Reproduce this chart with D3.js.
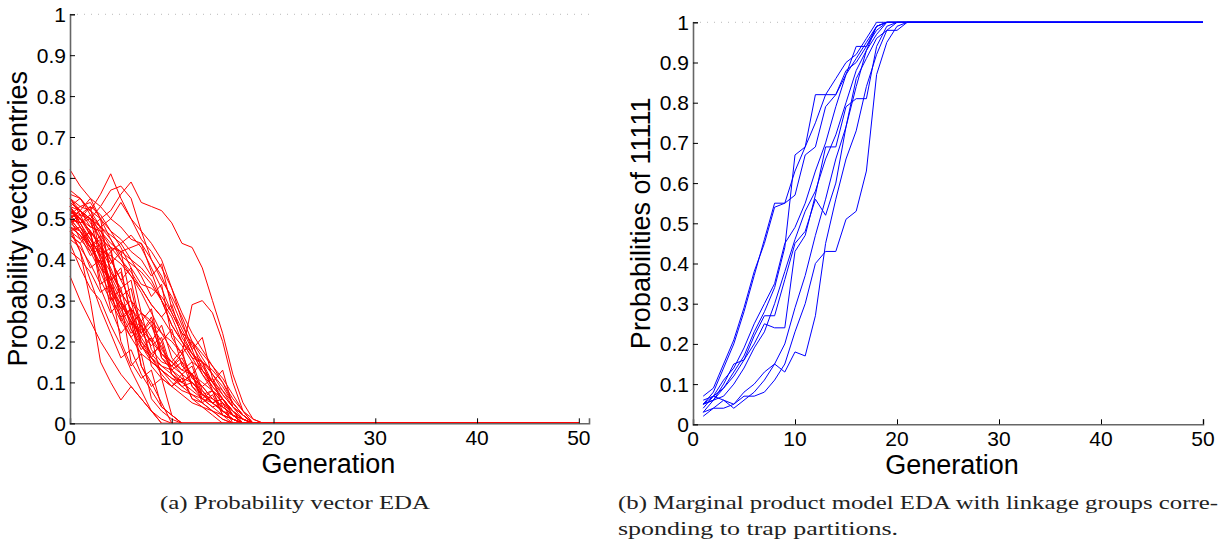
<!DOCTYPE html>
<html><head><meta charset="utf-8">
<script src="https://cdn.jsdelivr.net/npm/d3@7"></script>
<style>body{margin:0;background:#fff}svg{display:block}</style>
</head><body>
<svg id="c" width="1226" height="544"></svg>
<script>
// ---------- DATA ----------
const xTicks = [0,10,20,30,40,50];
const yTicks = [0,0.1,0.2,0.3,0.4,0.5,0.6,0.7,0.8,0.9,1];
const yTickLabels = ["0","0.1","0.2","0.3","0.4","0.5","0.6","0.7","0.8","0.9","1"];
const generationsLeft = d3.range(0,51);   // generations 0..50
const generationsRight = d3.range(1,51);  // generations 1..50
// Left: probability vector entries (values read until each line reaches 0; stays 0 afterwards)
const redSeries = [
[0.47,0.42,0.3,0.15,0.1,0.057,0.09,0.06,0.03,0.01,0],
[0.36,0.3,0.25,0.2,0.16,0.12,0.09,0.06,0.03,0],
[0.46,0.44,0.38,0.4,0.28,0.22,0.25,0.14,0.1,0.05,0],
[0.42,0.4,0.37,0.32,0.34,0.2,0.14,0.17,0.06,0.03,0.01,0],
[0.5,0.45,0.47,0.33,0.27,0.3,0.15,0.11,0.13,0.04,0.02,0],
[0.53,0.48,0.43,0.46,0.3,0.25,0.28,0.14,0.09,0.11,0.02,0],
[0.48,0.42,0.35,0.28,0.22,0.16,0.18,0.12,0.08,0.04,0.02,0],
[0.44,0.38,0.33,0.3,0.24,0.19,0.13,0.08,0.03,0],
[0.5,0.47,0.42,0.44,0.32,0.28,0.3,0.2,0.17,0.19,0.12,0.1,0.12,0.05,0.03,0.01,0],
[0.52,0.49,0.5,0.4,0.35,0.37,0.27,0.22,0.25,0.16,0.13,0.15,0.09,0.07,0.08,0.02,0.01,0],
[0.48,0.46,0.41,0.43,0.31,0.26,0.28,0.19,0.16,0.2,0.12,0.1,0.12,0.06,0.04,0.05,0],
[0.55,0.51,0.53,0.41,0.35,0.38,0.26,0.21,0.24,0.17,0.15,0.18,0.09,0.06,0.08,0.03,0.01,0],
[0.49,0.5,0.46,0.48,0.37,0.33,0.35,0.23,0.2,0.24,0.16,0.13,0.15,0.08,0.05,0.06,0.02,0],
[0.51,0.48,0.44,0.38,0.33,0.29,0.25,0.19,0.15,0.13,0.11,0.09,0.1,0.08,0.05,0.03,0.01,0],
[0.46,0.44,0.47,0.35,0.3,0.33,0.23,0.18,0.21,0.11,0.09,0.12,0.06,0.05,0.07,0.02,0.01,0],
[0.53,0.5,0.47,0.43,0.38,0.32,0.28,0.25,0.21,0.17,0.14,0.12,0.1,0.07,0.05,0.03,0.02,0.01,0],
[0.5,0.49,0.44,0.39,0.42,0.3,0.24,0.27,0.18,0.15,0.14,0.16,0.11,0.09,0.06,0.04,0.02,0],
[0.47,0.45,0.42,0.37,0.31,0.26,0.21,0.17,0.15,0.13,0.1,0.08,0.07,0.06,0.04,0.02,0],
[0.54,0.52,0.48,0.5,0.36,0.31,0.33,0.22,0.19,0.21,0.13,0.1,0.12,0.07,0.05,0.06,0.02,0.01,0],
[0.49,0.47,0.43,0.39,0.34,0.29,0.25,0.21,0.17,0.14,0.12,0.09,0.07,0.05,0.03,0.01,0],
[0.51,0.5,0.47,0.44,0.39,0.42,0.3,0.25,0.28,0.16,0.14,0.17,0.11,0.09,0.11,0.04,0.02,0],
[0.45,0.43,0.39,0.34,0.36,0.25,0.21,0.24,0.16,0.13,0.11,0.1,0.08,0.06,0.05,0.03,0.01,0],
[0.52,0.51,0.46,0.4,0.34,0.28,0.23,0.19,0.16,0.12,0.09,0.07,0.05,0.04,0.02,0],
[0.5,0.52,0.49,0.45,0.4,0.35,0.38,0.27,0.24,0.2,0.23,0.14,0.12,0.15,0.08,0.05,0.03,0.01,0],
[0.48,0.46,0.43,0.38,0.35,0.3,0.26,0.2,0.16,0.14,0.13,0.11,0.1,0.07,0.05,0.03,0.01,0],
[0.53,0.49,0.45,0.41,0.43,0.3,0.25,0.22,0.26,0.18,0.15,0.12,0.14,0.07,0.06,0.04,0.02,0],
[0.47,0.48,0.45,0.41,0.37,0.32,0.28,0.24,0.2,0.17,0.15,0.13,0.12,0.1,0.08,0.06,0.03,0.01,0],
[0.5,0.47,0.43,0.45,0.33,0.27,0.22,0.25,0.14,0.11,0.09,0.11,0.06,0.04,0.03,0.02,0.01,0],
[0.62,0.58,0.55,0.5,0.45,0.4,0.36,0.32,0.27,0.22,0.18,0.15,0.12,0.09,0.06,0.04,0.02,0],
[0.57,0.55,0.52,0.56,0.61,0.55,0.5,0.47,0.44,0.4,0.33,0.25,0.18,0.12,0.08,0.05,0.02,0],
[0.55,0.53,0.54,0.5,0.52,0.56,0.59,0.54,0.53,0.52,0.49,0.44,0.43,0.38,0.3,0.22,0.12,0.05,0.01,0],
[0.53,0.52,0.5,0.53,0.57,0.58,0.55,0.47,0.4,0.35,0.31,0.26,0.2,0.16,0.12,0.08,0.04,0.01,0],
[0.52,0.5,0.47,0.43,0.4,0.35,0.3,0.27,0.25,0.22,0.2,0.17,0.29,0.3,0.27,0.2,0.1,0.03,0],
[0.5,0.49,0.51,0.46,0.42,0.44,0.46,0.43,0.38,0.33,0.27,0.22,0.17,0.13,0.09,0.06,0.03,0.01,0],
[0.54,0.52,0.55,0.53,0.5,0.48,0.45,0.44,0.4,0.36,0.3,0.24,0.19,0.15,0.1,0.07,0.04,0.02,0],
[0.52,0.5,0.48,0.47,0.43,0.42,0.43,0.44,0.37,0.3,0.24,0.2,0.17,0.15,0.12,0.09,0.05,0.02,0],
[0.56,0.55,0.52,0.48,0.5,0.54,0.5,0.45,0.42,0.38,0.33,0.27,0.22,0.18,0.14,0.1,0.05,0.02,0],
[0.55,0.52,0.5,0.47,0.44,0.42,0.4,0.36,0.31,0.34,0.21,0.17,0.2,0.13,0.1,0.06,0.03,0],
[0.53,0.55,0.51,0.48,0.46,0.44,0.4,0.38,0.35,0.3,0.24,0.2,0.16,0.12,0.09,0.06,0.03,0.01,0],
[0.51,0.53,0.52,0.5,0.47,0.45,0.42,0.4,0.36,0.39,0.28,0.23,0.18,0.21,0.11,0.07,0.04,0.02,0],
[0.49,0.51,0.5,0.48,0.45,0.41,0.39,0.37,0.34,0.3,0.26,0.2,0.16,0.15,0.13,0.1,0.06,0.03,0.01,0],
[0.52,0.5,0.53,0.51,0.47,0.43,0.38,0.34,0.33,0.31,0.27,0.22,0.2,0.17,0.14,0.11,0.07,0.03,0],
[0.5,0.52,0.5,0.45,0.43,0.4,0.37,0.33,0.29,0.26,0.29,0.21,0.17,0.14,0.1,0.13,0.04,0.02,0],
[0.48,0.47,0.44,0.42,0.41,0.39,0.36,0.33,0.29,0.26,0.22,0.19,0.15,0.13,0.1,0.08,0.05,0.02,0]
];
// Right: probabilities of 11111 (from generation 1; values read until each line reaches 1, stays 1 afterwards)
const blueSeries = [
[0.07,0.09,0.15,0.21,0.29,0.38,0.45,0.54,0.55,0.57,0.67,0.69,0.79,0.82,0.88,0.90,0.94,0.99,1],
[0.05,0.08,0.14,0.20,0.28,0.37,0.46,0.55,0.55,0.63,0.69,0.75,0.82,0.82,0.87,0.91,0.95,0.99,1],
[0.05,0.06,0.10,0.15,0.16,0.22,0.27,0.27,0.36,0.45,0.48,0.56,0.52,0.60,0.74,0.84,0.93,0.97,1],
[0.04,0.07,0.09,0.12,0.16,0.20,0.25,0.24,0.24,0.43,0.47,0.57,0.69,0.69,0.79,0.81,0.81,0.94,0.99,1],
[0.03,0.06,0.09,0.13,0.17,0.23,0.28,0.34,0.44,0.67,0.69,0.82,0.82,0.86,0.90,0.92,0.96,1],
[0.05,0.07,0.11,0.14,0.19,0.25,0.30,0.35,0.45,0.49,0.55,0.63,0.70,0.79,0.87,0.94,0.94,0.98,1],
[0.03,0.04,0.04,0.05,0.07,0.07,0.08,0.11,0.15,0.23,0.30,0.40,0.43,0.43,0.51,0.53,0.63,0.87,0.95,0.99,1],
[0.02,0.04,0.06,0.04,0.06,0.08,0.11,0.15,0.13,0.18,0.17,0.27,0.45,0.56,0.66,0.73,0.84,0.92,0.98,1],
[0.06,0.07,0.06,0.05,0.08,0.10,0.13,0.15,0.20,0.29,0.37,0.47,0.56,0.66,0.74,0.86,0.91,0.96,0.98,0.98,1],
[0.05,0.06,0.07,0.10,0.14,0.19,0.23,0.30,0.38,0.46,0.53,0.58,0.66,0.72,0.80,0.88,0.93,0.99,1]
];

// ---------- DRAW ----------
const svg = d3.select("#c");
const FONT = "'Liberation Sans', Arial, Helvetica, sans-serif";
const SERIF = "'Liberation Serif', 'DejaVu Serif', serif";

function panel(opt){
  const x = d3.scaleLinear().domain(opt.xDomain).range([opt.left, opt.right]);
  const y = d3.scaleLinear().domain([0,1]).range([opt.bottom, opt.top]);
  const g = svg.append("g");
  g.append("line").attr("x1",opt.left).attr("x2",opt.right).attr("y1",y(1)).attr("y2",y(1))
    .attr("stroke","#bbb").attr("stroke-width",1).attr("stroke-dasharray","1,6");
  const line = d3.line().x(d=>x(d[0])).y(d=>y(d[1]));
  const gens = opt.gens;
  opt.series.forEach(s=>{
    const pts = gens.map((gv,i)=>[gv, i < s.length ? s[i] : s[s.length-1]]);
    g.append("path").attr("d",line(pts)).attr("fill","none")
      .attr("stroke",opt.color).attr("stroke-width",1).attr("stroke-linejoin","round");
  });
  const xa = g.append("g").attr("transform",`translate(0,${opt.bottom})`)
    .call(d3.axisTop(x).tickValues(xTicks).tickSize(5).tickFormat(""));
  xa.select(".domain").attr("stroke","#666").attr("stroke-width",1.6);
  xa.selectAll(".tick line").attr("stroke","#000");
  g.selectAll(null).data(xTicks).enter().append("text")
    .attr("x",d=>x(d)).attr("y",opt.bottom+22).attr("text-anchor","middle")
    .attr("font-family",FONT).attr("font-size",21).attr("fill","#000").text(d=>d);
  const ya = g.append("g").attr("transform",`translate(${opt.left},0)`)
    .call(d3.axisRight(y).tickValues(yTicks).tickSize(5).tickFormat(""));
  ya.select(".domain").attr("stroke","#666").attr("stroke-width",1.6);
  ya.selectAll(".tick line").attr("stroke","#000");
  g.selectAll(null).data(yTicks).enter().append("text")
    .attr("x",opt.left-4).attr("y",d=>y(d)+7.5).attr("text-anchor","end")
    .attr("font-family",FONT).attr("font-size",21).attr("fill","#000")
    .text((d,i)=>yTickLabels[i]);
  g.append("text").attr("x",(opt.left+x(50))/2+4).attr("y",opt.bottom+50).attr("text-anchor","middle")
    .attr("font-family",FONT).attr("font-size",27).attr("fill","#000").text("Generation");
  g.append("text").attr("transform",`translate(${opt.ylabX},${(opt.top+opt.bottom)/2}) rotate(-90)`)
    .attr("text-anchor","middle").attr("font-family",FONT).attr("font-size",27).attr("fill","#000")
    .text(opt.ylabel);
}

panel({xDomain:[0,51], left:70, right:589, top:14.3, bottom:423.3, gens:generationsLeft,
  series:redSeries, color:"#ff0000", ylabel:"Probability vector entries", ylabX:27});
panel({xDomain:[0,50], left:693, right:1203, top:22.3, bottom:424.3, gens:generationsRight,
  series:blueSeries, color:"#0000ff", ylabel:"Probabilities of 11111", ylabX:650});

svg.append("text").attr("x",160).attr("y",509).attr("font-family",SERIF).attr("font-size",19)
  .attr("fill","#222").attr("textLength",270).attr("lengthAdjust","spacingAndGlyphs")
  .text("(a) Probability vector EDA");
svg.append("text").attr("x",618).attr("y",509).attr("font-family",SERIF).attr("font-size",19)
  .attr("fill","#222").attr("textLength",600).attr("lengthAdjust","spacingAndGlyphs")
  .text("(b) Marginal product model EDA with linkage groups corre-");
svg.append("text").attr("x",618).attr("y",535).attr("font-family",SERIF).attr("font-size",19)
  .attr("fill","#222").attr("textLength",280).attr("lengthAdjust","spacingAndGlyphs")
  .text("sponding to trap partitions.");
</script>
</body></html>
